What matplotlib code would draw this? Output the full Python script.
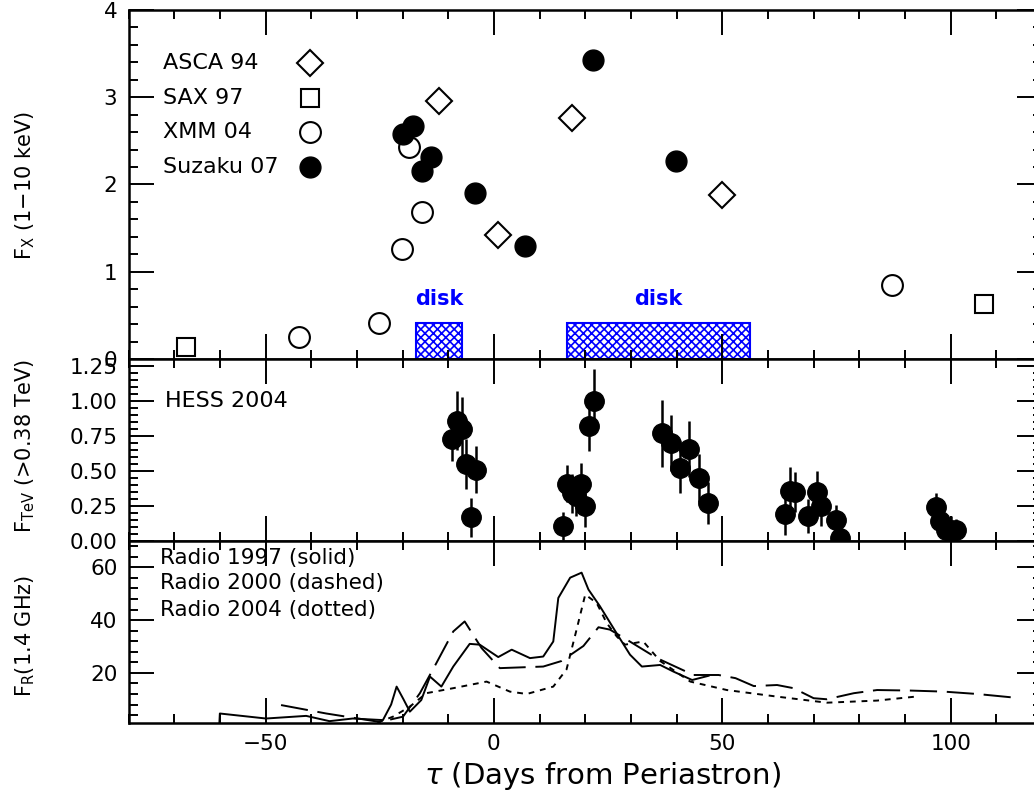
import numpy as np
import matplotlib
matplotlib.use("Agg")
import matplotlib.pyplot as plt
from matplotlib.patches import Rectangle
from matplotlib.ticker import MultipleLocator

plt.rcParams['font.family'] = ['DejaVu Sans']
plt.rcParams['hatch.color'] = 'blue'
plt.rcParams['hatch.linewidth'] = 1.2

# X-ray fluxes (1-10 keV)
asca_t = [-12.1, 0.9, 17.0, 49.9]
asca_f = [2.96, 1.42, 2.76, 1.88]
sax_t = [-67.4, 107.3]
sax_f = [0.14, 0.63]
xmm_t = [-42.7, -25.2, -20.1, -18.6, -15.7, 87.1]
xmm_f = [0.25, 0.41, 1.26, 2.43, 1.68, 0.85]
suz_t = [-19.8, -17.8, -15.8, -13.8, -4.1, 6.8, 21.7, 39.9]
suz_f = [2.58, 2.67, 2.16, 2.31, 1.90, 1.29, 3.43, 2.27]

# disk crossings (start, end)
disk_start = [-17.1, 15.9]
disk_end = [-7.0, 56.0]
disk_height = 0.41

# HESS 2004 TeV fluxes
hess_t = [-9.1, -8.0, -6.9, -6.0, -3.9, -5.0,
          15.2, 15.9, 17.0, 18.0, 19.0, 20.0, 20.9, 21.9,
          36.8, 38.8, 40.8, 42.8, 44.8, 46.8,
          63.8, 64.8, 66.0, 68.7, 70.8, 71.7, 74.8, 75.7,
          96.7, 97.7, 98.9, 100.0, 101.1]
hess_f = [0.73, 0.86, 0.80, 0.55, 0.51, 0.17,
          0.11, 0.41, 0.34, 0.32, 0.41, 0.25, 0.82, 1.00,
          0.77, 0.70, 0.52, 0.66, 0.45, 0.27,
          0.19, 0.36, 0.35, 0.18, 0.35, 0.25, 0.15, 0.02,
          0.24, 0.14, 0.08, 0.08, 0.08]
hess_e = [0.16, 0.21, 0.23, 0.18, 0.17, 0.14,
          0.10, 0.13, 0.14, 0.14, 0.15, 0.15, 0.18, 0.23,
          0.24, 0.20, 0.18, 0.20, 0.17, 0.15,
          0.15, 0.17, 0.14, 0.12, 0.15, 0.14, 0.11, 0.06,
          0.10, 0.10, 0.10, 0.10, 0.08]

# radio light curves (1.4 GHz)
r97_t = [-60.1, -60.0, -49.9, -41.1, -36.0, -30.9, -24.3, -22.5, -21.3, -19.8, -18.4,
         -15.9, -14.0, -11.5, -8.9, -5.3, -3.1, 0.95, 3.9, 7.9, 10.8, 13.0, 14.1,
         16.7, 19.2, 20.7, 23.2, 27.3, 29.8, 32.4, 36.4, 39.3, 43.4, 47.0]
r97_f = [1.0, 4.6, 2.7, 3.7, 1.7, 2.7, 2.1, 8.0, 14.8, 10.0, 5.3,
         9.7, 18.6, 14.8, 22.4, 31.0, 30.7, 26.0, 28.8, 25.6, 26.2, 31.9, 48.4,
         56.1, 58.0, 51.6, 45.3, 33.8, 26.9, 22.4, 23.0, 20.5, 17.3, 18.9]
r00_t = [-46.6, -36.7, -25.0, -19.9, -16.2, -12.6, -8.9, -6.4, -2.7, 1.3, 10.8,
         14.8, 19.6, 22.9, 25.4, 29.1, 35.7, 43.7, 49.2, 52.9, 56.9, 62.0, 65.6,
         70.0, 72.9, 78.8, 83.9, 91.2, 98.5, 105.8, 113.5]
r00_f = [7.8, 4.6, 1.4, 3.4, 12.3, 23.7, 35.7, 39.5, 29.4, 21.8, 22.4,
         24.5, 30.2, 37.3, 36.4, 32.6, 25.6, 19.2, 19.2, 18.0, 15.0, 15.4, 14.2,
         10.4, 10.0, 12.3, 13.5, 13.3, 12.9, 12.0, 10.7]
r04_t = [-25.5, -22.1, -18.4, -14.8, -8.9, -1.6, 3.5, 7.2, 13.0, 15.9, 18.1,
         20.0, 22.5, 24.7, 26.9, 28.7, 32.7, 36.4, 43.0, 51.0, 62.0, 72.9, 83.9, 92.3]
r04_f = [1.1, 3.4, 7.2, 12.3, 14.2, 16.7, 12.9, 12.0, 14.8, 21.3, 36.4,
         49.7, 46.5, 38.9, 33.8, 30.7, 31.9, 24.5, 16.7, 13.5, 11.0, 8.7, 9.5, 11.0]

W, H = 1034, 799
fig = plt.figure(figsize=(W / 100, H / 100), dpi=100)

left = 128.5 / W
width = (1042 - 128.5) / W
def fy(py):
    return 1 - py / H

ax1 = fig.add_axes([left, fy(359), width, fy(10) - fy(359)])
ax2 = fig.add_axes([left, fy(541), width, fy(359) - fy(541)])
ax3 = fig.add_axes([left, fy(723), width, fy(541) - fy(723)])

for ax in (ax1, ax2, ax3):
    ax.set_xlim(-80, 120)
    ax.xaxis.set_major_locator(MultipleLocator(50))
    ax.xaxis.set_minor_locator(MultipleLocator(10))
    ax.tick_params(which='both', direction='in', top=True, right=True,
                   width=1.4, labelsize=15.5, pad=8)
    ax.tick_params(which='major', length=18)
    ax.tick_params(which='minor', length=6.5)
    for s in ax.spines.values():
        s.set_linewidth(1.8)
for ax in (ax1, ax2):
    ax.tick_params(axis='x', labelbottom=False)

# --- top: X-ray ---
ax1.set_ylim(0, 4)
ax1.yaxis.set_major_locator(MultipleLocator(1))
ax1.yaxis.set_minor_locator(MultipleLocator(0.2))
ms = 15
ax1.plot(asca_t, asca_f, 'D', ms=ms * 0.85, mfc='white', mec='black', mew=1.5, ls='none')
ax1.plot(sax_t, sax_f, 's', ms=ms * 0.85, mfc='white', mec='black', mew=1.5, ls='none')
ax1.plot(xmm_t, xmm_f, 'o', ms=ms, mfc='white', mec='black', mew=1.5, ls='none')
ax1.plot(suz_t, suz_f, 'o', ms=ms, mfc='black', mec='black', ls='none')

for s, e in zip(disk_start, disk_end):
    ax1.add_patch(Rectangle((s, 0), e - s, disk_height, fill=False,
                            edgecolor='blue', hatch='xxxx', lw=1.5))
    ax1.text((s + e) / 2, 0.69, 'disk', color='blue', fontsize=15,
             fontweight='bold', ha='center', va='center')

labels = ['ASCA 94', 'SAX 97', 'XMM 04', 'Suzaku 07']
leg_y = [3.39, 2.99, 2.60, 2.20]
for lab, y in zip(labels, leg_y):
    ax1.text(-72.5, y, lab, fontsize=16, ha='left', va='center')
ax1.plot([-40.2], [leg_y[0]], 'D', ms=ms * 0.85, mfc='white', mec='black', mew=1.5)
ax1.plot([-40.2], [leg_y[1]], 's', ms=ms * 0.85, mfc='white', mec='black', mew=1.5)
ax1.plot([-40.2], [leg_y[2]], 'o', ms=ms, mfc='white', mec='black', mew=1.5)
ax1.plot([-40.2], [leg_y[3]], 'o', ms=ms, mfc='black', mec='black')

# --- middle: TeV ---
ax2.set_ylim(0, 1.3)
ax2.yaxis.set_minor_locator(MultipleLocator(0.05))
ax2.set_yticks([0, 0.25, 0.5, 0.75, 1.0, 1.25])
ax2.set_yticklabels(['0.00', '0.25', '0.50', '0.75', '1.00', '1.25'])
ax2.errorbar(hess_t, hess_f, yerr=hess_e, fmt='o', ms=14, color='black',
             elinewidth=1.8, capsize=0)
ax2.text(-72, 1.0, 'HESS 2004', fontsize=16, ha='left', va='center')

# --- bottom: radio ---
ax3.set_ylim(1, 70)
ax3.yaxis.set_major_locator(MultipleLocator(20))
ax3.yaxis.set_minor_locator(MultipleLocator(4))
ax3.plot(r97_t, r97_f, color='black', lw=1.4, ls='-')
ax3.plot(r00_t, r00_f, color='black', lw=1.4, ls=(0, (14, 5)))
ax3.plot(r04_t, r04_f, color='black', lw=1.4, ls=(0, (3, 3)))
for txt, y in zip(['Radio 1997 (solid)', 'Radio 2000 (dashed)', 'Radio 2004 (dotted)'],
                  [63.5, 54.0, 44.0]):
    ax3.text(-73, y, txt, fontsize=15.5, ha='left', va='center')

ax3.set_xticks([-50, 0, 50, 100])
ax3.set_xticklabels(['\u221250', '0', '50', '100'])

fig.text(602 / W, 1 - 776 / H, r'$\tau$ (Days from Periastron)', fontsize=21,
         ha='center', va='center')
fig.text(25 / W, 1 - 185 / H, r'F$_{\rm X}$ (1$-$10 keV)', fontsize=15,
         rotation=90, ha='center', va='center')
fig.text(25 / W, 1 - 446 / H, r'F$_{\rm TeV}$ (>0.38 TeV)', fontsize=15,
         rotation=90, ha='center', va='center')
fig.text(25 / W, 1 - 636 / H, r'F$_{\rm R}$(1.4 GHz)', fontsize=15,
         rotation=90, ha='center', va='center')

fig.savefig('out.png', dpi=100)
